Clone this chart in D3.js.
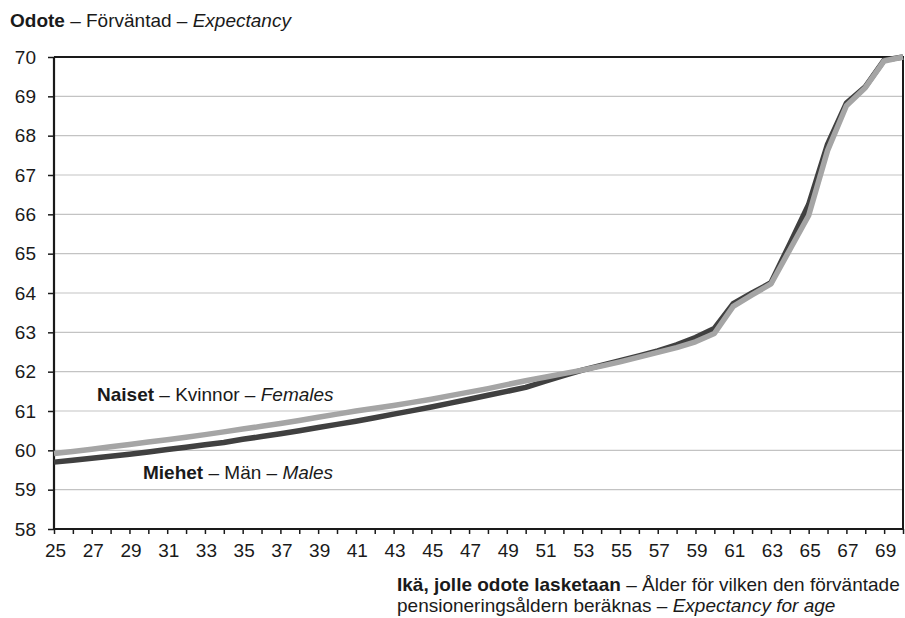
<!DOCTYPE html>
<html>
<head>
<meta charset="utf-8">
<script src="https://cdn.jsdelivr.net/npm/d3@7"></script>
<style>
  html, body { margin: 0; padding: 0; background: #fff; }
  svg { display: block; font-family: "Liberation Sans", Arial, sans-serif; }
</style>
</head>
<body>
<svg id="chart" width="905" height="618"></svg>
<script>
// ---- data ----
const ages = [25,26,27,28,29,30,31,32,33,34,35,36,37,38,39,40,41,42,43,44,45,46,47,48,49,50,51,52,53,54,55,56,57,58,59,60,61,62,63,64,65,66,67,68,69,70];
const males = [59.70,59.75,59.80,59.85,59.90,59.96,60.02,60.08,60.14,60.20,60.28,60.35,60.42,60.50,60.58,60.66,60.74,60.83,60.92,61.01,61.10,61.20,61.30,61.40,61.50,61.60,61.75,61.90,62.04,62.16,62.28,62.40,62.53,62.68,62.87,63.10,63.73,64.00,64.26,65.25,66.25,67.78,68.83,69.24,69.92,70.00];
const females = [59.92,59.97,60.03,60.09,60.15,60.21,60.27,60.33,60.40,60.47,60.54,60.61,60.68,60.76,60.84,60.92,61.00,61.07,61.14,61.22,61.30,61.39,61.48,61.57,61.67,61.77,61.86,61.95,62.04,62.14,62.25,62.37,62.49,62.61,62.76,62.97,63.66,63.95,64.23,65.10,65.97,67.62,68.76,69.22,69.90,70.00];
const yTicks = [58,59,60,61,62,63,64,65,66,67,68,69,70];
const xLabels = [25,27,29,31,33,35,37,39,41,43,45,47,49,51,53,55,57,59,61,63,65,67,69];

const titleParts = [["Odote","bold"],[" – Förväntad – ","normal"],["Expectancy","italic"]];
const xTitle1 = [["Ikä, jolle odote lasketaan","bold"],[" – Ålder för vilken den förväntade","normal"]];
const xTitle2 = [["pensioneringsåldern beräknas – ","normal"],["Expectancy for age","italic"]];
const femaleLabel = [["Naiset","bold"],[" – Kvinnor – ","normal"],["Females","italic"]];
const maleLabel = [["Miehet","bold"],[" – Män – ","normal"],["Males","italic"]];

// ---- layout ----
const svg = d3.select("#chart");
const L = 54, R = 903, T = 57, B = 529;
const fs = 19;
const x = d3.scalePoint().domain(ages).range([L, R]).padding(0);
const y = d3.scaleLinear().domain([58, 70]).range([B, T]);

// gridlines
svg.append("g").selectAll("line").data(yTicks.filter(v => v > 58 && v < 70)).join("line")
  .attr("x1", L).attr("x2", R)
  .attr("y1", d => y(d)).attr("y2", d => y(d))
  .attr("stroke", "#c3c3c3").attr("stroke-width", 1.2);

// plot border (top & right)
svg.append("path")
  .attr("d", `M${L},${T}H${R}V${B}`)
  .attr("fill", "none").attr("stroke", "#1a1a1a").attr("stroke-width", 2);

// y axis
const yAxis = svg.append("g").attr("transform", `translate(${L},0)`)
  .call(d3.axisLeft(y).tickValues(yTicks).tickFormat(d3.format("d")).tickSize(6).tickPadding(12));
yAxis.select(".domain").attr("stroke", "#1a1a1a").attr("stroke-width", 2.2).attr("d", `M0,${T}V${B + 1}`);
yAxis.selectAll(".tick line").attr("stroke", "#1a1a1a").attr("stroke-width", 1.5);
yAxis.selectAll("text").attr("font-size", fs).attr("fill", "#1a1a1a")
  .attr("font-family", "Liberation Sans, Arial, sans-serif");

// x axis
const xAxis = svg.append("g").attr("transform", `translate(0,${B})`)
  .call(d3.axisBottom(x).tickValues(ages).tickFormat(d => xLabels.includes(d) ? d : "").tickSize(5).tickPadding(10));
xAxis.select(".domain").attr("stroke", "#1a1a1a").attr("stroke-width", 2.2).attr("d", `M${L - 1},0H${R}`);
xAxis.selectAll(".tick line").attr("stroke", "#1a1a1a").attr("stroke-width", 1.5);
xAxis.selectAll("text").attr("font-size", fs).attr("fill", "#1a1a1a").attr("dx", 1)
  .attr("font-family", "Liberation Sans, Arial, sans-serif");

// lines
const line = d3.line().x((d, i) => x(ages[i])).y(d => y(d));
svg.append("path").datum(males).attr("d", line)
  .attr("fill", "none").attr("stroke", "#404040").attr("stroke-width", 5.5)
  .attr("stroke-linejoin", "round");
svg.append("path").datum(females).attr("d", line)
  .attr("fill", "none").attr("stroke", "#a5a5a5").attr("stroke-width", 5.5)
  .attr("stroke-linejoin", "round");

// rich text helper
function rich(parts, tx, ty) {
  const t = svg.append("text").attr("x", tx).attr("y", ty)
    .attr("font-size", fs).attr("fill", "#1a1a1a");
  parts.forEach(([s, st]) => {
    const span = t.append("tspan").text(s);
    if (st === "bold") span.attr("font-weight", "bold");
    if (st === "italic") span.attr("font-style", "italic");
  });
  return t;
}

rich(titleParts, 10, 27);
rich(femaleLabel, 97, 401);
rich(maleLabel, 143, 479);
rich(xTitle1, 397, 591);
rich(xTitle2, 397, 612);
</script>
</body>
</html>
